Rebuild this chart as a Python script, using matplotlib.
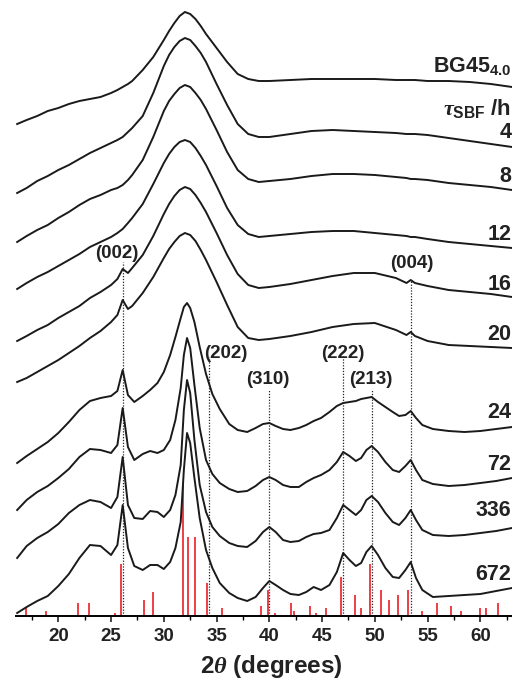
import matplotlib
matplotlib.use("Agg")
import matplotlib.pyplot as plt
from matplotlib.ticker import MultipleLocator

plt.rcParams['font.family'] = ['Liberation Sans', 'DejaVu Sans']
plt.rcParams['font.weight'] = 'bold'
plt.rcParams['mathtext.fontset'] = 'custom'
plt.rcParams['mathtext.rm'] = 'Liberation Sans:bold'
plt.rcParams['mathtext.bf'] = 'Liberation Sans:bold'
plt.rcParams['mathtext.it'] = 'Liberation Serif:italic'

# 2theta grid (degrees) for the amorphous patterns (BG45 .. 20 h)
tt_amorph = [16.1, 17, 18, 19, 20, 21, 22, 23, 24, 25, 25.6, 26.1, 26.6, 27, 28, 29, 30,
             30.5, 31, 31.5, 32, 32.5, 33, 33.5, 34, 35, 36, 37, 38, 39, 40, 42, 44,
             46, 48, 50, 52, 53, 53.4, 53.8, 55, 57, 59, 61, 63]

# 2theta grid (degrees) for the crystalline patterns (24 .. 672 h)
tt_cryst = [16.1, 17, 18, 19, 20, 21, 22, 23, 24, 25, 25.6, 26.1, 26.6, 27.2, 28, 28.7,
            29.4, 30, 30.6, 31.1, 31.6, 31.9, 32.2, 32.5, 32.9, 33.4, 34, 34.6, 35.3,
            36.2, 37, 37.9, 38.7, 39.4, 40, 40.6, 41.3, 42, 42.8, 43.5, 44.2, 44.9,
            45.7, 46.4, 47, 47.6, 48.2, 48.7, 49.2, 49.7, 50.3, 51, 51.7, 52.3, 52.9,
            53.4, 53.9, 54.5, 55.5, 57, 58.5, 60, 61.5, 63]

# stacked intensities (a.u.)
i_bg45 = [492, 496, 500, 505, 508, 512, 515, 517, 519, 523, 526, 529, 532, 535, 546, 559, 576,
          585, 593, 600, 604, 602, 597, 590, 582, 568, 554, 542, 537, 535, 535, 536, 537,
          537, 537, 537, 536, 536, 536, 536, 535, 535, 534, 532, 529]
i_4h = [423, 428, 435, 440, 446, 451, 457, 463, 468, 473, 476, 479, 484, 488, 500, 523, 550,
        561, 569, 575, 578, 576, 570, 563, 554, 532, 511, 492, 482, 479, 479, 482, 485,
        486, 485, 484, 483, 482, 482, 482, 481, 478, 475, 472, 469]
i_8h = [374, 380, 386, 391, 398, 404, 411, 417, 421, 426, 428, 431, 436, 441, 456, 479, 505,
        515, 522, 528, 531, 529, 523, 516, 507, 486, 464, 446, 437, 434, 435, 437, 440,
        442, 442, 441, 439, 438, 437, 437, 436, 433, 431, 429, 426]
i_12h = [327, 333, 339, 344, 350, 356, 362, 369, 374, 379, 383, 387, 393, 398, 412, 432, 453,
         462, 469, 474, 476, 474, 468, 460, 451, 430, 408, 391, 382, 379, 380, 382, 384,
         385, 385, 383, 381, 380, 379, 379, 377, 374, 372, 370, 368]
i_16h = [275, 280, 286, 291, 298, 304, 310, 318, 324, 331, 337, 347, 343, 348, 361, 380, 402,
         412, 420, 426, 429, 427, 421, 413, 404, 383, 361, 342, 331, 328, 329, 332, 336,
         340, 343, 343, 338, 333, 336, 333, 330, 326, 324, 322, 319]
i_20h = [234, 238, 244, 250, 256, 263, 270, 278, 285, 294, 301, 316, 307, 310, 323, 339, 358,
         367, 374, 380, 383, 381, 375, 366, 356, 334, 311, 289, 278, 276, 277, 280, 284,
         289, 292, 293, 286, 281, 284, 280, 275, 271, 270, 269, 268]
i_24h = [153, 160, 167, 174, 183, 194, 206, 215, 218, 220, 225, 246, 221, 214, 220, 226,
         233, 244, 261, 279, 298, 309, 313, 308, 294, 269, 242, 222, 207, 192, 186, 184,
         188, 192, 193, 190, 187, 186, 188, 191, 195, 198, 204, 210, 213, 214, 215, 217,
         218, 219, 214, 209, 204, 200, 201, 205, 198, 191, 187, 185, 184, 185, 187, 189]
i_72h = [106, 116, 124, 130, 138, 147, 159, 167, 166, 163, 171, 208, 169, 156, 162, 165,
         163, 166, 176, 196, 228, 261, 278, 268, 231, 188, 156, 142, 133, 127, 124, 125,
         130, 136, 139, 136, 131, 129, 129, 134, 138, 141, 146, 154, 164, 160, 155, 158,
         166, 170, 164, 154, 146, 144, 150, 156, 146, 136, 132, 130, 131, 133, 135, 138]
i_336h = [58, 70, 78, 84, 92, 103, 111, 116, 114, 108, 119, 159, 111, 98, 97, 105,
          104, 99, 106, 121, 151, 206, 236, 223, 176, 131, 104, 89, 80, 73, 70, 69,
          75, 84, 89, 84, 76, 74, 75, 79, 82, 83, 86, 98, 111, 106, 101, 106,
          116, 120, 114, 103, 94, 91, 98, 106, 96, 86, 81, 80, 81, 83, 85, 88]
i_672h = [3, 9, 15, 20, 30, 42, 58, 71, 70, 61, 71, 111, 68, 50, 46, 51,
          51, 47, 54, 68, 94, 146, 183, 173, 138, 98, 66, 48, 33, 23, 18, 15,
          19, 28, 35, 31, 26, 22, 21, 24, 29, 26, 31, 44, 63, 56, 50, 53,
          64, 70, 61, 48, 39, 38, 46, 54, 38, 26, 19, 20, 21, 22, 25, 28]

amorph_curves = [i_bg45, i_4h, i_8h, i_12h, i_16h, i_20h]
cryst_curves = [i_24h, i_72h, i_336h, i_672h]

# curve labels on the right and their heights
sample_labels = ['BG45$_{4.0}$', '4', '8', '12', '16', '20', '24', '72', '336', '672']
sample_label_y = [550, 484, 440, 382, 332, 282, 203, 152, 105, 41]

# hydroxyapatite reference lines: 2theta and relative intensity (%)
ha_tt = [16.90, 18.81, 21.87, 22.94, 25.37, 25.91, 28.15, 29.00, 31.79, 32.25, 32.96,
         34.09, 35.52, 39.24, 39.88, 40.54, 42.06, 42.37, 43.86, 44.43, 45.37, 46.75,
         48.12, 48.66, 49.55, 50.56, 51.35, 52.17, 53.18, 54.50, 55.92, 57.19, 58.14,
         59.97, 60.54, 61.71]
ha_int = [6, 4, 10, 10, 2.5, 40, 12, 18, 100, 60, 60, 25, 6, 8, 20, 2, 10, 4, 8, 2, 6,
          30, 16, 6, 40, 20, 12, 16, 20, 4, 10, 8, 4, 6, 6, 10]

# indexed reflections
hkl = ['(002)', '(202)', '(310)', '(222)', '(213)', '(004)']
hkl_tt = [26.13, 34.3, 39.95, 46.98, 49.7, 53.43]
hkl_line_top = [354, 259, 226, 261, 226, 336]
hkl_text_xy = [(25.57, 363), (35.9, 262), (39.88, 236), (46.98, 263), (49.64, 236), (53.52, 353)]

fig = plt.figure(figsize=(5.12, 6.82), dpi=100)
ax = fig.add_axes([16 / 512, 66 / 682, 496 / 512, 616 / 682])

# reference sticks
ax.vlines(ha_tt, 0, [v * 1.31 for v in ha_int], color='#ee1c25', lw=1.2, zorder=1)

# dotted guide lines
for x, top in zip(hkl_tt, hkl_line_top):
    ax.plot([x, x], [0, top], color='#222222', lw=0.9, ls=(0, (1, 1.3)), zorder=2)

for y in amorph_curves:
    ax.plot(tt_amorph, y, color='#1a1a1a', lw=1.4, zorder=3)
for y in cryst_curves:
    ax.plot(tt_cryst, y, color='#1a1a1a', lw=1.4, zorder=3)

for lab, (x, y) in zip(hkl, hkl_text_xy):
    ax.text(x, y, lab, ha='center', va='center', fontsize=13.5, fontweight='bold',
            color='#222222')

for lab, y in zip(sample_labels, sample_label_y):
    ax.text(62.92, y, lab, ha='right', va='center', fontsize=15.5, fontweight='bold',
            color='#222222')
ax.text(62.92, 508, r'$\tau_{\mathrm{SBF}}$ /h', ha='right', va='center',
        fontsize=16, fontweight='bold', color='#222222')

ax.set_xlim(15.99, 63.0)
ax.set_ylim(0, 616)
for s in ['left', 'right', 'top']:
    ax.spines[s].set_visible(False)
ax.spines['bottom'].set_linewidth(1.4)
ax.set_yticks([])
ax.set_xticks(range(20, 61, 5))
ax.xaxis.set_minor_locator(MultipleLocator(2.5))
ax.tick_params(axis='x', which='major', length=4.3, width=1.2, direction='out',
               labelsize=13.5, pad=4.5, colors='#222222')
ax.tick_params(axis='x', which='minor', length=2.8, width=1.0, direction='out')
for t in ax.get_xticklabels():
    t.set_fontweight('bold')

fig.text(271 / 512, 15 / 682, r'2$\theta$ (degrees)', ha='center', va='center',
         fontsize=17.5, fontweight='bold', color='#222222')

fig.savefig('out.png', dpi=100)
